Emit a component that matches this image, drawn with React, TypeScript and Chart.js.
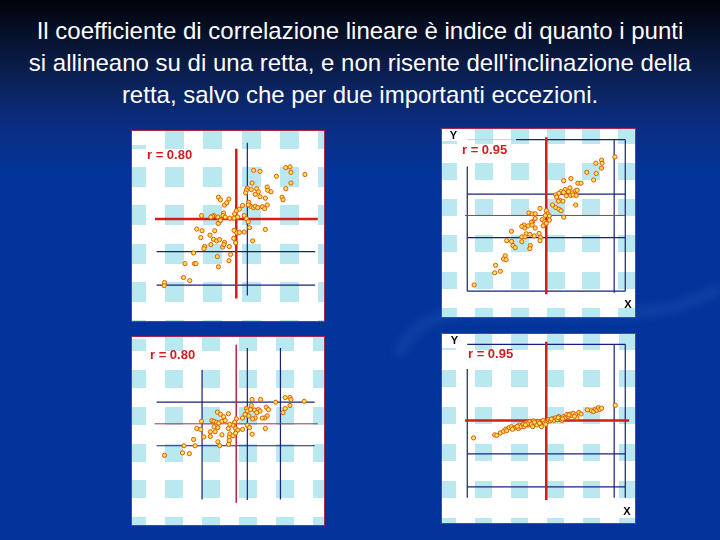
import React, { useEffect, useRef } from "react";
import { Chart, registerables } from "chart.js";
Chart.register(...registerables);

type Pt = [number, number];
type Seg = [number, number, number, number];

const TITLE_LINES = [
  "Il coefficiente di correlazione lineare è indice di quanto i punti",
  "si allineano su di una retta, e non risente dell'inclinazione della",
  "retta, salvo che per due importanti eccezioni.",
];

const R_LABELS = ["r = 0.80", "r = 0.95", "r = 0.80", "r = 0.95"];

// ---------- Panel 1 (top-left) ----------
const panel1Points: Pt[] = [
  [63.9, 80.6], [67.4, 80.0], [81.4, 82.1], [83.7, 82.5], [84.2, 79.5], [91.8, 78.3], [76.3, 77.3],
  [63.1, 73.6], [84.2, 73.6], [81.4, 70.5], [60.5, 70.8], [60.0, 69.6], [62.7, 70.0], [65.6, 70.5],
  [66.5, 68.8], [71.3, 71.4], [71.6, 69.6], [73.4, 68.8], [59.6, 68.2], [64.8, 67.4], [67.4, 66.1],
  [70.3, 65.3], [79.4, 65.8], [79.9, 64.4], [44.8, 65.8], [45.9, 64.4], [50.5, 64.8], [48.1, 61.5],
  [49.3, 62.7], [61.3, 63.0], [62.2, 60.9], [57.9, 61.3], [61.0, 61.6], [63.9, 60.1], [64.8, 60.9],
  [66.2, 60.1], [68.7, 60.6], [71.3, 61.5], [69.9, 59.6], [56.2, 59.2], [54.5, 58.3], [53.6, 56.6],
  [47.6, 57.1], [47.3, 55.7], [44.5, 54.9], [42.4, 55.7], [41.6, 55.4], [40.7, 54.9], [35.6, 55.7],
  [45.9, 53.5], [48.5, 54.9], [51.0, 54.3], [53.3, 54.3], [55.3, 54.9], [58.8, 55.7], [60.0, 54.0],
  [61.0, 52.3], [44.7, 51.4], [45.9, 53.1], [33.0, 48.3], [35.9, 47.4], [42.8, 47.4], [53.3, 47.6],
  [54.8, 46.2], [56.2, 46.5], [58.8, 46.7], [70.3, 48.1], [61.7, 49.1], [40.2, 45.0], [35.2, 43.6],
  [42.1, 42.7], [43.8, 41.8], [45.4, 42.5], [48.1, 41.0], [40.7, 39.8], [54.1, 40.8], [53.1, 43.2],
  [63.4, 41.8], [37.3, 38.7], [36.9, 37.5], [47.1, 38.4], [50.7, 38.7], [47.8, 39.8], [31.3, 35.2],
  [51.4, 34.4], [44.2, 33.2], [50.5, 30.9], [26.6, 29.3], [31.8, 29.3], [32.6, 29.3], [44.8, 27.6],
  [25.8, 21.7], [29.2, 20.0], [15.5, 18.9], [15.3, 17.2],
];
const panel1RedLines: Seg[] = [[54.5, 92.4, 54.5, 10.2], [10.3, 53.8, 98.8, 53.8]];
const panel1NavyLines: Seg[] = [[60.5, 95.7, 60.5, 11.8], [11.2, 35.9, 97.4, 35.9], [11.2, 17.5, 97.4, 17.5]];

// ---------- Panel 2 (top-right) ----------
const panel2Points: Pt[] = [
  [91.3, 86.7], [84.1, 84.9], [81.0, 83.2], [84.4, 83.2], [84.1, 80.5], [76.1, 78.2], [81.2, 77.5],
  [67.5, 74.7], [63.6, 73.5], [79.8, 73.9], [71.3, 72.1], [73.0, 72.1], [67.0, 69.5], [64.4, 68.6],
  [62.2, 67.4], [61.0, 66.5], [63.6, 67.0], [66.2, 67.4], [68.4, 66.8], [70.1, 67.9], [70.9, 68.2],
  [65.0, 65.1], [67.4, 65.3], [68.7, 65.6], [70.4, 65.3], [59.3, 65.6], [59.8, 64.4], [61.5, 62.6],
  [63.2, 62.1], [60.7, 62.1], [70.1, 60.0], [57.6, 60.0], [59.3, 58.6], [61.0, 57.7], [62.2, 56.8],
  [50.8, 58.1], [44.8, 55.6], [46.5, 55.1], [48.2, 55.1], [54.2, 56.8], [55.0, 55.1], [53.7, 54.2],
  [55.9, 53.9], [63.6, 53.2], [48.2, 52.5], [46.8, 50.7], [46.2, 50.4], [52.0, 51.9], [53.3, 50.7],
  [55.9, 51.6], [54.2, 49.8], [52.5, 48.4], [42.2, 48.9], [41.0, 48.1], [42.7, 47.2], [44.4, 48.4],
  [46.5, 48.9], [48.2, 47.2], [35.4, 45.4], [43.4, 44.0], [47.7, 42.8], [41.0, 42.3], [42.7, 42.3],
  [45.3, 43.7], [50.3, 44.2], [51.1, 41.9], [50.8, 40.2], [32.8, 40.2], [35.4, 39.8], [41.0, 39.6],
  [45.6, 37.5], [36.2, 37.5], [37.4, 36.3], [45.3, 35.8], [32.0, 31.8], [31.1, 30.0], [32.5, 29.6],
  [26.8, 26.5], [26.3, 22.3], [29.4, 23.2], [15.2, 15.6],
];
const panel2RedThick: Seg[] = [[54.2, 97.7, 54.2, 10.4]];
const panel2RedThin: Seg[] = [[10.3, 54.2, 96.9, 54.2]];
const panel2NavyLines: Seg[] = [
  [11.5, 81.4, 11.5, 12.1], [11.5, 12.1, 96.9, 12.1], [96.9, 12.1, 96.9, 96.3], [37.9, 96.3, 96.9, 96.3],
  [90.9, 11.2, 90.9, 96.3], [11.5, 66.0, 96.9, 66.0], [11.5, 41.9, 96.9, 41.9],
];
const panel2GreyLines: Seg[] = [[11.5, 96.3, 37.9, 96.3]];

// ---------- Panel 3 (bottom-left) ----------
const panel3Points: Pt[] = [
  [63.1, 67.5], [67.7, 67.5], [75.9, 66.0], [81.1, 68.6], [83.7, 68.6], [84.2, 67.4], [91.4, 66.5],
  [83.7, 64.2], [81.1, 62.5], [79.9, 60.2], [62.7, 64.2], [60.0, 62.5], [60.5, 61.1], [62.2, 61.9],
  [64.4, 61.6], [66.5, 61.9], [67.4, 61.1], [65.6, 60.2], [70.8, 63.2], [72.0, 61.9], [71.3, 58.4],
  [69.9, 57.2], [68.6, 57.2], [64.8, 57.2], [63.4, 56.7], [61.3, 58.4], [59.3, 59.3], [57.9, 57.2],
  [44.2, 60.5], [45.9, 59.3], [50.2, 59.6], [47.6, 57.9], [41.2, 55.8], [42.4, 55.4], [43.8, 54.9],
  [45.0, 54.4], [46.7, 55.4], [48.5, 55.8], [35.6, 55.4], [54.5, 56.7], [53.6, 54.9], [52.7, 53.2],
  [51.0, 53.7], [50.2, 51.4], [54.1, 51.4], [55.3, 50.5], [57.9, 50.9], [60.5, 53.2], [61.7, 51.9],
  [70.3, 51.4], [63.1, 48.2], [33.0, 51.4], [35.2, 50.9], [42.4, 52.3], [44.5, 51.9], [43.0, 49.6],
  [40.4, 49.6], [36.9, 46.7], [40.4, 47.0], [46.7, 47.9], [50.7, 46.7], [51.0, 48.4], [52.7, 47.4],
  [54.1, 48.8], [44.5, 44.0], [45.5, 41.8], [50.7, 44.7], [50.3, 42.6], [31.3, 45.3], [26.1, 41.8],
  [32.1, 41.8], [25.3, 37.9], [29.0, 37.4], [15.5, 36.5],
];
const panel3RedThin: Seg[] = [[54.5, 97.9, 54.5, 10.2], [10.1, 54.0, 98.8, 54.0]];
const panel3NavyLines: Seg[] = [
  [35.9, 83.9, 35.9, 11.9], [60.5, 96.1, 60.5, 11.6], [78.5, 96.1, 78.5, 11.9],
  [11.2, 66.0, 97.1, 66.0], [11.2, 41.8, 97.1, 41.8],
];

// ---------- Panel 4 (bottom-right) ----------
const panel4Points: Pt[] = [
  [14.9, 44.8], [26.3, 46.5], [27.4, 46.2], [29.4, 47.6], [31.1, 48.4], [32.3, 49.7], [32.8, 48.8],
  [34.2, 50.5], [35.4, 51.0], [36.6, 50.2], [37.9, 50.7], [39.1, 50.0], [39.7, 51.9], [40.5, 51.0],
  [41.7, 52.3], [42.2, 51.0], [43.4, 53.1], [44.4, 51.9], [45.1, 53.7], [46.2, 52.4], [46.8, 51.0],
  [47.4, 54.2], [48.2, 52.8], [49.1, 51.9], [49.9, 53.7], [51.3, 52.4], [51.6, 51.0], [52.5, 54.5],
  [53.3, 53.1], [54.7, 53.7], [55.4, 54.9], [56.4, 54.2], [57.6, 55.4], [58.5, 54.5], [59.3, 55.9],
  [60.2, 54.9], [61.0, 56.6], [61.9, 55.4], [62.7, 54.5], [63.6, 56.6], [64.4, 55.9], [65.3, 57.7],
  [66.2, 56.6], [67.0, 58.0], [67.9, 57.2], [68.7, 58.4], [70.1, 57.7], [70.8, 55.9], [71.8, 58.9],
  [73.0, 58.0], [76.4, 60.3], [78.6, 59.8], [79.8, 59.4], [80.7, 60.7], [81.5, 60.1], [82.4, 61.5],
  [83.2, 60.6], [84.1, 61.2], [91.5, 62.8], [44.0, 52.6], [47.9, 53.5], [50.5, 52.9], [53.9, 52.3],
  [56.9, 55.2], [60.6, 56.0], [63.0, 55.3], [66.5, 57.5], [69.4, 56.7], [38.5, 51.2], [42.9, 52.0],
  [35.9, 49.6],
];
const panel4RedThick: Seg[] = [[54.2, 97.9, 54.2, 10.5], [10.3, 54.4, 99.0, 54.4]];
const panel4NavyLines: Seg[] = [
  [11.5, 96.5, 96.9, 96.5], [11.5, 82.9, 11.5, 11.7], [96.9, 96.5, 96.9, 11.7], [90.9, 96.5, 90.9, 11.7],
  [11.5, 36.0, 96.9, 36.0], [11.5, 17.8, 96.9, 17.8],
];

// ---------- styles ----------
const RED = "#d41c1c";
const RED_THIN = "#c02848";
const NAVY = "#16207f";
const GREY = "#c4cad8";
const CHECK = "#bae8f1";

type TextItem = { text: string; x: number; y: number; font: string; color: string; align?: CanvasTextAlign };
type PanelCfg = {
  left: number; top: number; w: number; h: number;
  points: Pt[];
  lines: { segs: Seg[]; color: string; width: number }[];
  grid: { sx: number; px: number; sy: number; py: number; w: number; h: number };
  boxes: [number, number, number, number][];
  texts: TextItem[];
};

const LABEL_FONT = "bold 13px 'Liberation Sans', Arial, sans-serif";
const AXIS_FONT = "bold 11px 'Liberation Sans', Arial, sans-serif";

const PANELS: PanelCfg[] = [
  {
    left: 131, top: 130, w: 194, h: 192, points: panel1Points,
    lines: [
      { segs: panel1RedLines, color: RED, width: 2.5 },
      { segs: panel1NavyLines, color: NAVY, width: 1.2 },
    ],
    grid: { sx: 34, px: 38.3, sy: 37, py: 38.3, w: 19, h: 20 },
    boxes: [[0, 0, 19, 15]],
    texts: [{ text: R_LABELS[0], x: 16, y: 29, font: LABEL_FONT, color: "#cc1f1f" }],
  },
  {
    left: 441, top: 128, w: 195, h: 190, points: panel2Points,
    lines: [
      { segs: panel2RedThick, color: RED, width: 2.5 },
      { segs: panel2RedThin, color: RED_THIN, width: 1 },
      { segs: panel2GreyLines, color: GREY, width: 1 },
      { segs: panel2NavyLines, color: NAVY, width: 1.2 },
    ],
    grid: { sx: 34, px: 35.8, sy: 35, py: 36.2, w: 17.5, h: 17 },
    boxes: [[0, 0, 22, 13]],
    texts: [
      { text: R_LABELS[1], x: 21, y: 26, font: LABEL_FONT, color: "#cc1f1f" },
      { text: "Y", x: 12.5, y: 11, font: AXIS_FONT, color: "#000", align: "center" },
      { text: "X", x: 187, y: 180, font: AXIS_FONT, color: "#000", align: "center" },
    ],
  },
  {
    left: 131, top: 336, w: 194, h: 190, points: panel3Points,
    lines: [
      { segs: panel3RedThin, color: RED_THIN, width: 1 },
      { segs: panel3NavyLines, color: NAVY, width: 1.2 },
    ],
    grid: { sx: 34, px: 37.1, sy: 34, py: 36.8, w: 18, h: 18 },
    boxes: [[0, 0, 18, 3]],
    texts: [{ text: R_LABELS[2], x: 19, y: 23, font: LABEL_FONT, color: "#cc1f1f" }],
  },
  {
    left: 441, top: 333, w: 195, h: 191, points: panel4Points,
    lines: [
      { segs: panel4RedThick, color: RED, width: 2.5 },
      { segs: panel4NavyLines, color: NAVY, width: 1.2 },
    ],
    grid: { sx: 34, px: 35.9, sy: 37, py: 36.9, w: 17, h: 17 },
    boxes: [[0, 0, 20, 15]],
    texts: [
      { text: R_LABELS[3], x: 27, y: 25, font: LABEL_FONT, color: "#cc1f1f" },
      { text: "Y", x: 13.5, y: 11, font: AXIS_FONT, color: "#000", align: "center" },
      { text: "X", x: 186, y: 182, font: AXIS_FONT, color: "#000", align: "center" },
    ],
  },
];

function Panel({ cfg }: { cfg: PanelCfg }) {
  const ref = useRef<HTMLCanvasElement | null>(null);
  useEffect(() => {
    const canvas = ref.current;
    if (!canvas) return;
    const decor = {
      id: "panelDecor",
      beforeDraw(chart: any) {
        const { ctx, width, height } = chart;
        ctx.save();
        ctx.fillStyle = "#ffffff";
        ctx.fillRect(0, 0, width, height);
        ctx.fillStyle = CHECK;
        const g = cfg.grid;
        for (let x = g.sx - g.px; x < width; x += g.px) {
          for (let y = g.sy - g.py; y < height; y += g.py) {
            ctx.fillRect(Math.round(x), Math.round(y), Math.round(g.w), Math.round(g.h));
          }
        }
        ctx.fillStyle = "#ffffff";
        for (const b of cfg.boxes) ctx.fillRect(b[0], b[1], b[2], b[3]);
        ctx.restore();
      },
      afterDraw(chart: any) {
        const { ctx, width, height } = chart;
        ctx.save();
        for (const t of cfg.texts) {
          ctx.font = t.font;
          ctx.fillStyle = t.color;
          ctx.textAlign = t.align || "left";
          ctx.textBaseline = "alphabetic";
          ctx.fillText(t.text, t.x, t.y);
        }
        ctx.strokeStyle = "#a8284c";
        ctx.lineWidth = 1;
        ctx.strokeRect(0.5, 0.5, width - 1, height - 1);
        ctx.restore();
      },
    };

    const datasets: any[] = [
      {
        label: "points",
        data: cfg.points.map(([x, y]) => ({ x, y })),
        pointRadius: 2.1,
        pointBorderWidth: 1,
        pointBackgroundColor: "#ffe45a",
        pointBorderColor: "#e05a0a",
        showLine: false,
        order: 0,
      },
    ];
    cfg.lines.forEach((group, gi) => {
      group.segs.forEach((s) => {
        datasets.push({
          label: "line",
          data: [
            { x: s[0], y: s[1] },
            { x: s[2], y: s[3] },
          ],
          showLine: true,
          borderColor: group.color,
          borderWidth: group.width,
          pointRadius: 0,
          fill: false,
          order: gi + 1,
        });
      });
    });

    const chart = new Chart(canvas, {
      type: "scatter",
      data: { datasets },
      options: {
        responsive: false,
        animation: false,
        events: [],
        layout: { padding: 0 },
        plugins: { legend: { display: false }, tooltip: { enabled: false } },
        scales: {
          x: { type: "linear", min: 0, max: 100, display: false },
          y: { type: "linear", min: 0, max: 100, display: false },
        },
      },
      plugins: [decor],
    } as any);
    return () => chart.destroy();
  }, [cfg]);

  return (
    <canvas
      ref={ref}
      width={cfg.w}
      height={cfg.h}
      style={{ position: "absolute", left: cfg.left, top: cfg.top, width: cfg.w, height: cfg.h }}
    />
  );
}

export default function App() {
  return (
    <div
      style={{
        position: "fixed",
        left: 0,
        top: 0,
        width: 720,
        height: 540,
        overflow: "hidden",
        background:
          "linear-gradient(180deg, #01030a 0px, #071330 40px, #0b2460 90px, #0a2e86 130px, #03349b 175px, #02349c 540px)",
      }}
    >
      <svg
        width={720}
        height={540}
        style={{ position: "absolute", left: 0, top: 0, filter: "blur(4px)" }}
      >
        <path
          d="M398,356 C408,330 425,316 470,312 L640,312 C672,310 700,300 724,286"
          fill="none"
          stroke="rgba(110,150,225,0.12)"
          strokeWidth={12}
        />
      </svg>
      <div
        style={{
          position: "absolute",
          left: 0,
          top: 14.5,
          width: 720,
          textAlign: "center",
          color: "#ffffff",
          fontFamily: "'Liberation Sans', Arial, sans-serif",
          fontSize: 24,
          lineHeight: "32px",
          whiteSpace: "nowrap",
        }}
      >
        {TITLE_LINES.map((l, i) => (
          <div key={i}>{l}</div>
        ))}
      </div>
      {PANELS.map((p, i) => (
        <Panel key={i} cfg={p} />
      ))}
    </div>
  );
}
